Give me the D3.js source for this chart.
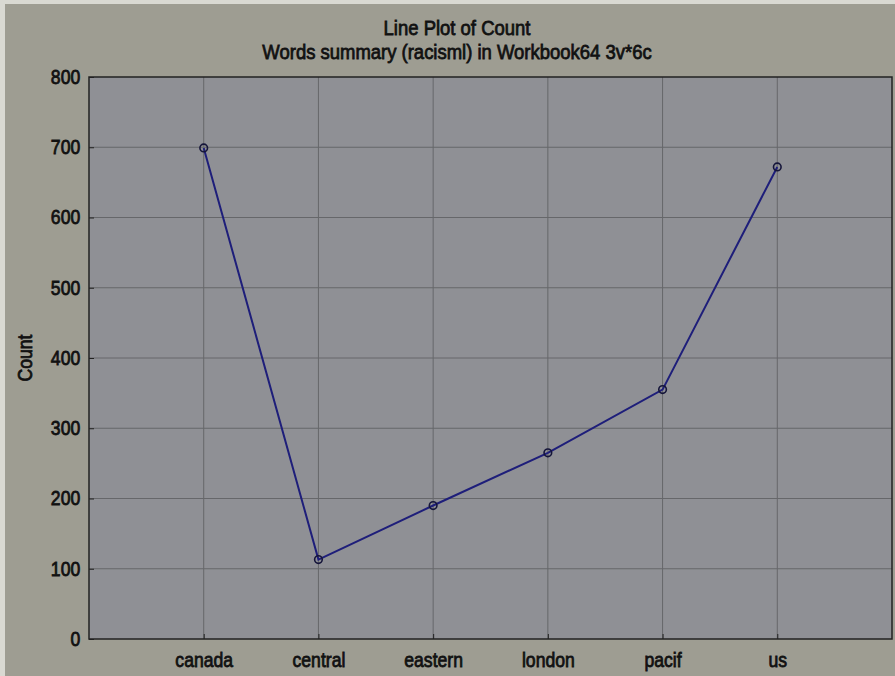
<!DOCTYPE html>
<html><head><meta charset="utf-8">
<script src="https://cdn.jsdelivr.net/npm/d3@7"></script>
<style>
html,body{margin:0;padding:0;background:#d9d9d2;}
svg{display:block;}
text{font-family:"Liberation Sans Narrow","Liberation Sans",Arial,sans-serif;fill:#111;stroke:#111;stroke-width:0.8px;}
</style></head>
<body>
<svg id="chart" width="895" height="676"></svg>
<script>
const categories = ["canada","central","eastern","london","pacif","us"];
const counts = [699, 113, 190, 265, 355, 672];
const yTicks = [0,100,200,300,400,500,600,700,800];
const titleLines = ["Line Plot of Count","Words summary (racisml) in Workbook64 3v*6c"];
const yLabel = "Count";

const svg = d3.select("#chart");
const W = 895, H = 676;
const m = {left: 89, right: 3, top: 77, bottom: 37};
const SX = 0.88;

svg.append("rect").attr("x",5).attr("y",4).attr("width",W-5).attr("height",H-4).attr("fill","#9e9d92");

const x = d3.scalePoint().domain(categories).range([m.left, W - m.right]).padding(1);
const y = d3.scaleLinear().domain([0,800]).range([H - m.bottom, m.top]);

svg.append("rect").attr("x",m.left).attr("y",m.top)
  .attr("width",W-m.right-m.left).attr("height",H-m.bottom-m.top).attr("fill","#8f9095");

// gridlines
svg.append("g").selectAll("line").data(yTicks.slice(1,-1)).join("line")
  .attr("x1",m.left).attr("x2",W-m.right).attr("y1",d=>y(d)).attr("y2",d=>y(d))
  .attr("stroke","#66676a").attr("stroke-width",1);
svg.append("g").selectAll("line").data(categories).join("line")
  .attr("x1",d=>x(d)).attr("x2",d=>x(d)).attr("y1",m.top).attr("y2",H-m.bottom)
  .attr("stroke","#66676a").attr("stroke-width",1);

// axes
const yAxis = d3.axisLeft(y).tickValues(yTicks).tickSize(-5).tickPadding(10);
const gy = svg.append("g").attr("transform",`translate(${m.left},0)`).call(yAxis);
gy.select(".domain").remove();
gy.selectAll("line").attr("stroke","#222");
gy.selectAll("text").style("font-size","20px").attr("transform",`scale(${SX},1)`);

const xAxis = d3.axisBottom(x).tickSize(-5).tickPadding(14);
const gx = svg.append("g").attr("transform",`translate(0,${H-m.bottom})`).call(xAxis);
gx.select(".domain").remove();
gx.selectAll("line").attr("stroke","#222");
gx.selectAll("text").style("font-size","20px").attr("transform",`scale(${SX},1)`);

// frame
svg.append("rect").attr("x",m.left).attr("y",m.top)
  .attr("width",W-m.right-m.left).attr("height",H-m.bottom-m.top)
  .attr("fill","none").attr("stroke","#222").attr("stroke-width",1.5);

// line
const line = d3.line().x((d,i)=>x(categories[i])).y(d=>y(d));
svg.append("path").datum(counts).attr("d",line).attr("fill","none")
  .attr("stroke","#1e1e7a").attr("stroke-width",2);
svg.append("g").selectAll("circle").data(counts).join("circle")
  .attr("cx",(d,i)=>x(categories[i])).attr("cy",d=>y(d)).attr("r",3.8)
  .attr("fill","none").attr("stroke","#15153a").attr("stroke-width",1.6);

// titles
svg.append("text").attr("transform",`translate(457,35) scale(${SX},1)`).attr("text-anchor","middle")
  .style("font-size","21px").text(titleLines[0]);
svg.append("text").attr("transform",`translate(457,59) scale(${SX},1)`).attr("text-anchor","middle")
  .style("font-size","21px").text(titleLines[1]);
svg.append("text").attr("transform",`translate(32,358) rotate(-90) scale(${SX},1)`).attr("text-anchor","middle")
  .style("font-size","20px").text(yLabel);
</script>
</body></html>
